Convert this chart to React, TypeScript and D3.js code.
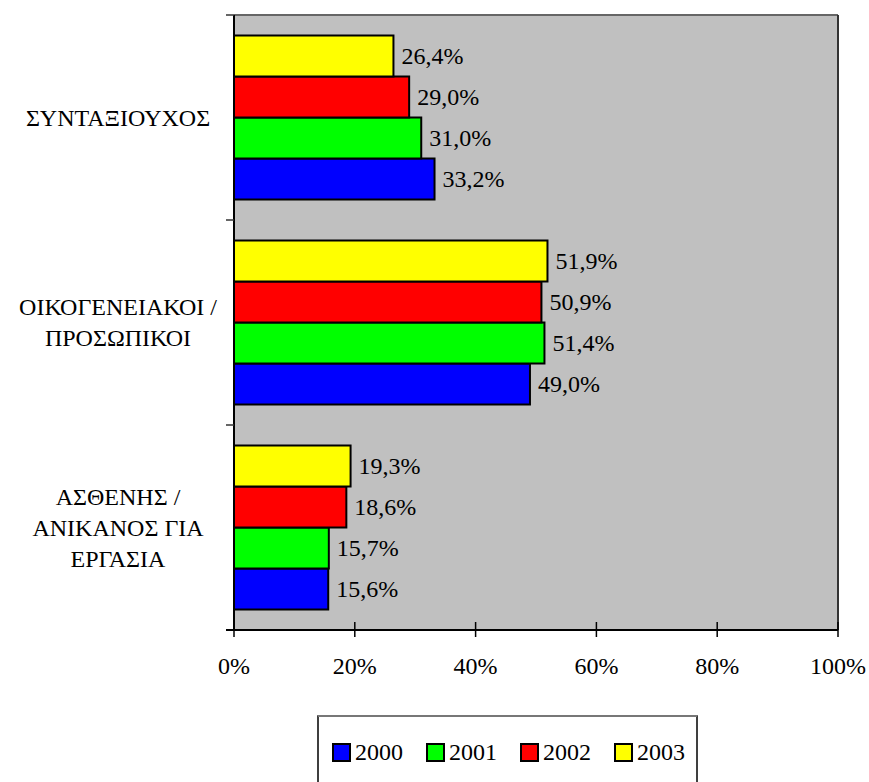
import React from 'react';
import * as d3 from 'd3';

// categories, top to bottom
const categories = ['ΣΥΝΤΑΞΙΟΥΧΟΣ', 'ΟΙΚΟΓΕΝΕΙΑΚΟΙ / ΠΡΟΣΩΠΙΚΟΙ', 'ΑΣΘΕΝΗΣ / ΑΝΙΚΑΝΟΣ ΓΙΑ ΕΡΓΑΣΙΑ'];
const categoryLines = [
  ['ΣΥΝΤΑΞΙΟΥΧΟΣ'],
  ['ΟΙΚΟΓΕΝΕΙΑΚΟΙ /', 'ΠΡΟΣΩΠΙΚΟΙ'],
  ['ΑΣΘΕΝΗΣ /', 'ΑΝΙΚΑΝΟΣ ΓΙΑ', 'ΕΡΓΑΣΙΑ'],
];

const years = ['2000', '2001', '2002', '2003'];
const values2000 = [33.2, 49.0, 15.6];
const values2001 = [31.0, 51.4, 15.7];
const values2002 = [29.0, 50.9, 18.6];
const values2003 = [26.4, 51.9, 19.3];
const xTicks = [0, 20, 40, 60, 80, 100];

const seriesValues: Record<string, number[]> = {
  '2000': values2000,
  '2001': values2001,
  '2002': values2002,
  '2003': values2003,
};
const colors: Record<string, string> = {
  '2000': '#0000ff',
  '2001': '#00ff00',
  '2002': '#ff0000',
  '2003': '#ffff00',
};

const FONT = "'Liberation Serif', 'DejaVu Serif', serif";

export default function App() {
  const width = 869;
  const height = 782;
  const plot = { left: 234, right: 838, top: 15, bottom: 630 };

  const x = d3.scaleLinear().domain([0, 100]).range([plot.left, plot.right]);
  const y = d3.scaleBand().domain(categories).range([plot.top, plot.bottom]);
  // inside each category: 2003 on top, 2000 at the bottom
  const inner = d3
    .scaleBand()
    .domain([...years].reverse())
    .range([0, y.bandwidth()])
    .paddingInner(0)
    .paddingOuter(0.5);

  const fmt = (v: number) => v.toFixed(1).replace('.', ',') + '%';
  const catTicks = [plot.top, ...categories.map((c) => (y(c) as number) + y.bandwidth())];

  // legend layout
  const legend = { x: 318, y: 716, w: 379, h: 100 };
  const legendStep = 94;

  return (
    <svg
      width={width}
      height={height}
      style={{ position: 'absolute', left: 0, top: 0, background: '#fff', fontFamily: FONT }}
    >
      {/* plot area */}
      <rect x={plot.left} y={plot.top} width={plot.right - plot.left} height={plot.bottom - plot.top} fill="#c0c0c0" />
      <line x1={plot.left} x2={plot.right} y1={plot.top} y2={plot.top} stroke="#666" strokeWidth={2} />
      <line x1={plot.right} x2={plot.right} y1={plot.top} y2={plot.bottom} stroke="#333" strokeWidth={2} />

      {/* bars */}
      {categories.map((c, ci) => (
        <g key={c} transform={`translate(0,${y(c)})`}>
          {years.map((yr) => {
            const v = seriesValues[yr][ci];
            const by = inner(yr) as number;
            return (
              <g key={yr}>
                <rect
                  x={x(0)}
                  y={by}
                  width={x(v) - x(0)}
                  height={inner.bandwidth()}
                  fill={colors[yr]}
                  stroke="#000"
                  strokeWidth={2}
                />
                <text
                  x={x(v) + 8}
                  y={by + inner.bandwidth() / 2 + 8}
                  fontSize={24}
                  fill="#000"
                >
                  {fmt(v)}
                </text>
              </g>
            );
          })}
        </g>
      ))}

      {/* category axis */}
      <line x1={plot.left} x2={plot.left} y1={plot.top} y2={plot.bottom} stroke="#000" strokeWidth={2} />
      {catTicks.map((t, i) => (
        <line key={i} x1={plot.left - 8} x2={plot.left} y1={t} y2={t} stroke="#333" strokeWidth={1.5} />
      ))}
      {categories.map((c, ci) => {
        const lines = categoryLines[ci];
        const cy = (y(c) as number) + y.bandwidth() / 2;
        const lh = 31;
        const start = cy - ((lines.length - 1) * lh) / 2 + 8;
        return (
          <text key={c} x={118} textAnchor="middle" fontSize={24} fill="#000">
            {lines.map((l, li) => (
              <tspan key={li} x={118} y={start + li * lh}>
                {l}
              </tspan>
            ))}
          </text>
        );
      })}

      {/* value axis */}
      <line x1={plot.left - 8} x2={plot.right} y1={plot.bottom} y2={plot.bottom} stroke="#000" strokeWidth={2} />
      {xTicks.map((t) => (
        <g key={t}>
          <line x1={x(t)} x2={x(t)} y1={t === 0 ? plot.bottom : plot.bottom - 8} y2={plot.bottom + 7} stroke="#000" strokeWidth={1.5} />
          <text x={x(t)} y={plot.bottom + 44} textAnchor="middle" fontSize={24} fill="#000">
            {t}%
          </text>
        </g>
      ))}

      {/* legend */}
      <rect x={legend.x} y={legend.y} width={legend.w} height={legend.h} fill="#fff" stroke="#000" strokeWidth={1.5} />
      <line x1={legend.x} x2={legend.x + legend.w} y1={legend.y} y2={legend.y} stroke="#777" strokeWidth={2} />
      {years.map((yr, i) => {
        const lx = legend.x + 15 + i * legendStep;
        return (
          <g key={yr}>
            <rect x={lx} y={744} width={17} height={17} fill={colors[yr]} stroke="#000" strokeWidth={2} />
            <text x={lx + 22} y={760} fontSize={24} fill="#000">
              {yr}
            </text>
          </g>
        );
      })}
    </svg>
  );
}
